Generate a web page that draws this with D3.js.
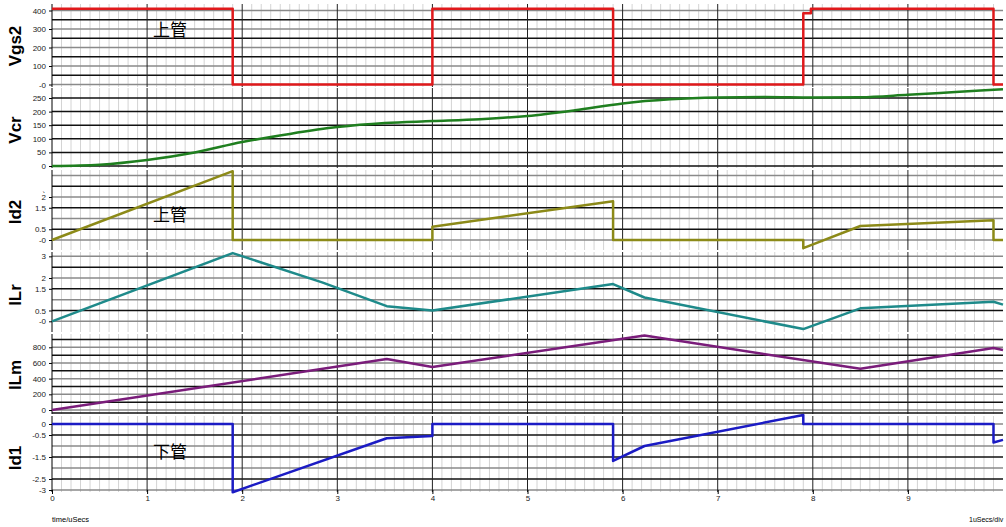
<!DOCTYPE html>
<html>
<head>
<meta charset="utf-8">
<script src="https://cdn.jsdelivr.net/npm/d3@7"></script>
<style>
body{margin:0;background:#fff;}
svg{display:block;font-family:"Liberation Sans Narrow","Liberation Sans",Arial,sans-serif;}
.ylab{font-family:"Liberation Sans",Arial,sans-serif;font-weight:bold;font-size:17px;}
.tag{font-family:"Noto Sans CJK SC",sans-serif;font-size:17px;}
</style>
</head>
<body>
<svg id="chart" width="1006" height="527"></svg>
<script>
// time axis (uSecs)
const timeTicks = [0,1,2,3,4,5,6,7,8,9];

// Vgs2 - upper switch gate drive
const vgs2T = [0,1.9,1.9,4.0,4.0,5.9,5.9,7.9,7.9,7.98,7.98,9.9,9.9,10];
const vgs2V = [410,410,0,0,410,410,0,0,385,385,410,410,0,0];
const vgs2Ticks = [0,100,200,300,400];
const vgs2Labels = ['-0','100','200','300','400'];

// Vcr - resonant cap voltage
const vcrT = [0,0.5,1,1.5,2,2.5,3,3.5,4,4.5,5,5.5,6,6.5,7,7.5,8,8.5,9,9.5,10];
const vcrV = [0,5,22,50,88,118,143,158,165,172,184,205,230,245,252,254,252,253,262,272,282];
const vcrTicks = [0,50,100,150,200,250];
const vcrLabels = ['0','50','100','150','200','250'];

// Id2 - upper switch current
const id2T = [0,1.9,1.9,4.0,4.0,5.9,5.9,7.9,7.9,8.5,9.9,9.9,10];
const id2V = [0,3.2,0,0,0.62,1.8,0,0,-0.38,0.65,0.92,0,0];
const id2Ticks = [0,0.5,1.5,2];
const id2Labels = ['-0','0.5','1.5','2'];

// ILr - resonant inductor current
const ilrT = [0,1.9,2.84,3.52,4.0,5.9,6.23,7.9,8.5,9.9,10];
const ilrV = [0,3.15,1.8,0.7,0.5,1.72,1.1,-0.36,0.6,0.9,0.77];
const ilrTicks = [0,0.5,1.5,2,3];
const ilrLabels = ['-0','0.5','1.5','2','3'];

// ILm - magnetizing current
const ilmT = [0,3.52,4.0,6.23,8.5,9.9,10];
const ilmV = [0,650,550,950,525,790,765];
const ilmTicks = [0,200,400,600,800];
const ilmLabels = ['0','200','400','600','800'];

// Id1 - lower switch current
const id1T = [0,1.9,1.9,3.52,4.0,4.0,5.9,5.9,6.23,7.9,7.9,9.9,9.9,10];
const id1V = [0,0,-3.1,-0.65,-0.55,0,0,-1.68,-1.0,0.41,0,0,-0.84,-0.72];
const id1Ticks = [-3,-2.5,-1.5,-0.5,0];
const id1Labels = ['-3','-2.5','-1.5','-0.5','0'];

const svg = d3.select('#chart');
const x = d3.scaleLinear().domain([0,10]).range([52,1003]);
const left = 52, right = 1003;

// per panel layout: pixel band, scale anchors, grid lines
const panels = [
  {name:'Vgs2', t:vgs2T, v:vgs2V, color:'#e0191b', top:4, bottom:87, dom:[0,400], rng:[84.5,10.5], grid:[0,400,50], ticks:vgs2Ticks, labels:vgs2Labels, ly:46},
  {name:'Vcr', t:vcrT, v:vcrV, color:'#1f7f1f', top:88, bottom:168, dom:[0,250], rng:[166,98], grid:[0,250,50], ticks:vcrTicks, labels:vcrLabels, ly:130, curve:d3.curveMonotoneX},
  {name:'Id2', t:id2T, v:id2V, color:'#8c8a18', top:170, bottom:250, dom:[0,2], rng:[240,197], grid:[0,3,0.5], ticks:id2Ticks, labels:id2Labels, ly:212},
  {name:'ILr', t:ilrT, v:ilrV, color:'#1e8a8a', top:252, bottom:332, dom:[0,2], rng:[321.3,278], grid:[0,3,0.5], ticks:ilrTicks, labels:ilrLabels, ly:295},
  {name:'ILm', t:ilmT, v:ilmV, color:'#7a1c7a', top:334, bottom:414, dom:[0,800], rng:[410,347.3], grid:[0,900,100], ticks:ilmTicks, labels:ilmLabels, ly:375},
  {name:'Id1', t:id1T, v:id1V, color:'#1b1bc4', top:416, bottom:492, dom:[-3,0], rng:[490,424], grid:[-3,0.5,0.5], ticks:id1Ticks, labels:id1Labels, ly:458}
];

const minorT = d3.range(0, 10.001, 0.1);

panels.forEach(function(p){
  const y = d3.scaleLinear().domain(p.dom).range(p.rng);
  const g = svg.append('g').attr('class','panel');

  // light minor verticals
  g.selectAll('.vminor')
    .data(minorT.filter(d => Math.abs(d - Math.round(d)) > 0.01))
    .enter().append('line')
    .attr('x1', d => x(d)).attr('x2', d => x(d))
    .attr('y1', p.top).attr('y2', p.bottom)
    .attr('stroke','#d4d4d4').attr('stroke-width',1);

  // horizontal grid, alternating black / grey
  const hv = d3.range(p.grid[0], p.grid[1] + 1e-6, p.grid[2]);
  g.selectAll('.hgrid')
    .data(hv)
    .enter().append('line')
    .attr('x1', left).attr('x2', right)
    .attr('y1', d => y(d)).attr('y2', d => y(d))
    .attr('stroke', (d,i) => (i % 2 || p.name == 'Vcr') ? '#111' : '#8a8a8a')
    .attr('stroke-width',1.5);

  // integer verticals
  g.selectAll('.vmajor')
    .data(d3.range(1,10))
    .enter().append('line')
    .attr('x1', d => x(d)).attr('x2', d => x(d))
    .attr('y1', p.top).attr('y2', p.bottom)
    .attr('stroke','#222').attr('stroke-width',1);

  // left axis
  const ax = d3.axisLeft(y)
    .tickValues(p.ticks)
    .tickFormat((d,i) => p.labels[i])
    .tickSize(3)
    .tickSizeOuter(0);
  const axg = g.append('g').attr('transform',`translate(${left},0)`).call(ax);
  axg.select('.domain').attr('d',`M0,${p.top}V${p.bottom}`).attr('stroke','#000');
  axg.selectAll('text').attr('font-size',8).attr('fill','#222').attr('font-family','inherit');

  // trace
  const line = d3.line()
    .x((d,i) => x(p.t[i]))
    .y(d => y(d))
    .curve(p.curve || d3.curveLinear);
  g.append('path')
    .datum(p.v)
    .attr('d', line)
    .attr('fill','none')
    .attr('stroke', p.color)
    .attr('stroke-width',2.5)
    .attr('stroke-linejoin','round');

  svg.append('text')
    .attr('class','ylab')
    .attr('transform',`translate(21,${p.ly}) rotate(-90)`)
    .attr('text-anchor','middle')
    .text(p.name);
});

// time axis
const xax = d3.axisBottom(x).tickValues(timeTicks).tickSize(4).tickSizeOuter(0);
const xg = svg.append('g').attr('transform','translate(0,490)').call(xax);
xg.select('.domain').remove();
xg.selectAll('text').attr('font-size',8).attr('fill','#222').attr('font-family','inherit').attr('dy','0.5em');

svg.append('text').attr('x',52).attr('y',522).attr('font-size',7.5).text('time/uSecs');
svg.append('text').attr('x',969).attr('y',522).attr('font-size',7).text('1uSecs/div');

// stray mark in the capture
svg.append('text').attr('x',42).attr('y',192).attr('font-size',8).text('、');

// switch annotations
svg.append('text').attr('class','tag').attr('x',153).attr('y',36).text('上管');
svg.append('text').attr('class','tag').attr('x',153).attr('y',221).text('上管');
svg.append('text').attr('class','tag').attr('x',153).attr('y',458).text('下管');
</script>
</body>
</html>
